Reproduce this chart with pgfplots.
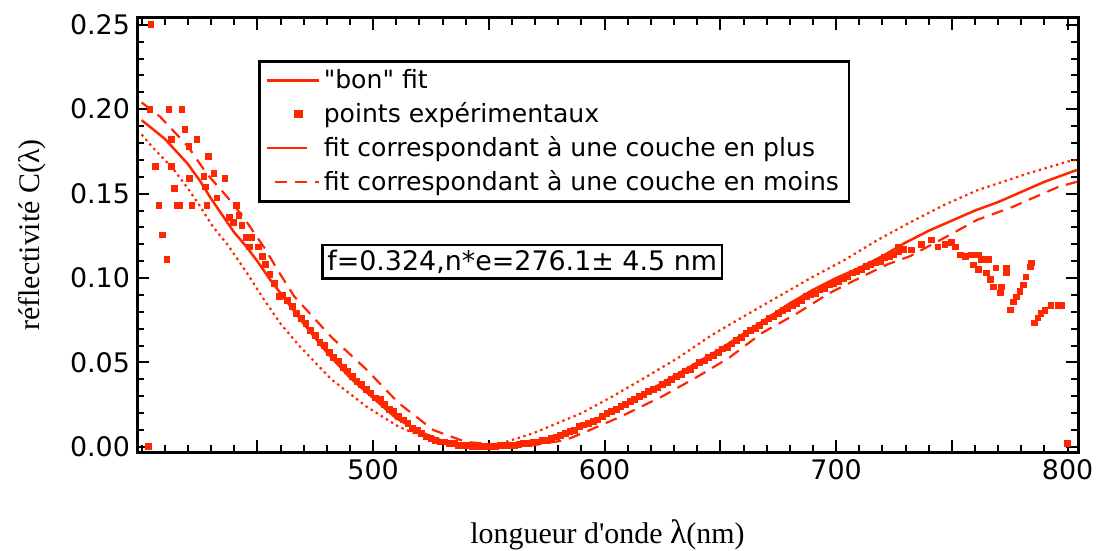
\documentclass[border=0pt]{standalone}
\usepackage{fontspec}
\setmainfont{Liberation Serif}
\newfontfamily\geneva[Ligatures=TeXOff]{DejaVu Sans}
\newfontfamily\labelfont[Ligatures=TeXOff]{Liberation Serif}
\usepackage{pgfplots}
\pgfplotsset{compat=1.18}
\usetikzlibrary{calc}
\definecolor{fitred}{RGB}{255,38,0}

\begin{document}
\begin{tikzpicture}
\begin{axis}[%
    ,name=ax
    ,scale only axis
    ,width=470.5bp,height=217bp
    ,xmin=398,xmax=804.5
    ,ymin=-0.003,ymax=0.254
    ,xtick={450,500,550,600,650,700,750,800}
    ,xticklabels={,500,,600,,700,,800}
    ,minor xtick={400,410,...,800}
    ,ytick={0,0.05,0.1,0.15,0.2,0.25}
    ,minor ytick={0.01,0.02,0.03,0.04,0.06,0.07,0.08,0.09,0.11,0.12,0.13,0.14,0.16,0.17,0.18,0.19,0.21,0.22,0.23,0.24}
    ,yticklabel style={/pgf/number format/.cd,fixed,fixed zerofill,precision=2}
    ,/pgf/number format/assume math mode=true
    ,ticklabel style={font=\geneva\fontsize{13.5}{16}\selectfont}
    ,major tick length=6bp,minor tick length=3.5bp
    ,every tick/.style={black,line width=1bp}
    ,axis line style={line width=1.5bp}
    ,xlabel={\labelfont longueur d'onde {\fontsize{17}{17}\selectfont λ}(nm)}
    ,ylabel={\labelfont réflectivité C(λ)}
    ,label style={font=\fontsize{15}{18}\selectfont}
    ,xlabel style={at={(axis description cs:0.5,-0.191)},anchor=center}
    ,ylabel style={at={(axis description cs:-0.1116,0.5)},anchor=center}
    ,legend cell align=left
    ,legend style={at={(0.1286,0.903)},anchor=north west,draw=black,line width=1.25bp,
        font=\geneva\fontsize{12.6}{15}\selectfont,row sep=1.5bp,inner xsep=3bp,inner ysep=2bp}
    ]
% "bon" fit
\addplot[fitred,line width=1.25bp,
    legend image code/.code={\draw (0bp,0bp) -- (26bp,0bp);}] coordinates {
 (400,0.1935) (405,0.188) (410,0.1825) (415,0.175) (420,0.1675) (425,0.158)
 (430,0.147) (435,0.137) (440,0.127) (445,0.119) (450,0.110) (455,0.100)
 (460,0.091) (465,0.082) (470,0.073) (480,0.056) (490,0.041) (500,0.029)
 (510,0.017) (520,0.009) (530,0.0035) (540,0.0010) (550,0.0) (560,0.0006)
 (570,0.0025) (580,0.0065) (590,0.012) (600,0.019) (610,0.026) (620,0.034)
 (630,0.042) (640,0.050) (650,0.058) (660,0.067) (670,0.076) (680,0.085)
 (690,0.093) (700,0.100) (710,0.106) (720,0.113) (730,0.121) (740,0.128)
 (750,0.134) (760,0.140) (770,0.145) (780,0.151) (790,0.157) (800,0.162) (804,0.164)
};
\addlegendentry{"bon" fit}
% points experimentaux
\addplot[only marks,mark=square*,mark size=1.45bp,color=fitred,mark options={draw=none,fill=fitred},
    legend image code/.code={\draw[mark repeat=2,mark phase=2] plot coordinates {(0bp,0bp) (16bp,0bp) (32bp,0bp)};}] coordinates {
 (404,0.250) (403,0.0005) (800,0.002)
 (403.6,0.200) (411.8,0.200) (417.4,0.200) (418.7,0.188) (413,0.182) (423.9,0.182)
 (420.4,0.178) (429,0.172) (405.8,0.166) (413,0.166) (420.8,0.159) (426.9,0.160)
 (431.2,0.162) (436,0.159) (414,0.153) (427.7,0.154) (432.5,0.1475) (407.5,0.1428)
 (415.2,0.1428) (416.5,0.1428) (421.7,0.1428) (428.2,0.1428) (441.1,0.1428)
 (438,0.136) (442,0.137) (439.8,0.133) (443.3,0.131) (408.8,0.1256) (445.4,0.124)
 (447.6,0.124) (410.9,0.111) (446.7,0.1185) (450.6,0.1185) (452,0.1126)
 (453.3,0.108) (455.4,0.102) (457.5,0.097) (459.6,0.089)
 (461,0.090) (463,0.087) (465,0.083) (467,0.079) (469,0.076) (471,0.073)
 (473,0.069) (475,0.066) (477,0.062) (479,0.060) (481,0.056) (483,0.053)
 (485,0.051) (487,0.047) (489,0.045) (491,0.042) (493,0.039) (495,0.037)
 (497,0.034) (499,0.032) (501,0.029) (503,0.028) (505,0.025) (507,0.022)
 (509,0.021) (511,0.018) (513,0.016) (515,0.014) (517,0.011) (519,0.010)
 (521,0.008) (523,0.006) (525,0.005) (527,0.004) (529,0.003) (531,0.003)
 (533,0.002) (535,0.002) (537,0.001) (539,0.001) (541,0.001) (543,0.0005)
 (545,0.0005) (547,0.0005) (549,0.0005) (551,0.0005) (553,0.0005) (555,0.001)
 (557,0.001) (559,0.001) (561,0.001) (563,0.0015) (565,0.002) (567,0.002)
 (569,0.003) (571,0.003) (573,0.004) (575,0.004) (577,0.005) (579,0.006)
 (581,0.007) (583,0.008) (585,0.009) (587,0.010) (589,0.012) (591,0.013)
 (593,0.014) (595,0.015) (597,0.016) (599,0.018) (601,0.020) (603,0.021)
 (605,0.022) (607,0.024) (609,0.025) (611,0.027) (613,0.028) (615,0.030)
 (617,0.031) (619,0.033) (621,0.034) (623,0.035) (625,0.037) (627,0.038)
 (629,0.040) (631,0.042) (633,0.043) (635,0.045) (637,0.046) (639,0.048)
 (641,0.050) (643,0.051) (645,0.053) (647,0.054) (649,0.056) (651,0.058)
 (653,0.059) (655,0.061) (657,0.063) (659,0.065) (661,0.067) (663,0.069)
 (665,0.070) (667,0.072) (669,0.074) (671,0.076) (673,0.077) (675,0.079)
 (677,0.081) (679,0.082) (681,0.084) (683,0.085) (685,0.087) (687,0.089)
 (689,0.090) (691,0.091) (693,0.093) (695,0.094) (697,0.096) (699,0.097)
 (701,0.098) (703,0.100) (705,0.101) (707,0.103) (709,0.104) (711,0.105)
 (713,0.107) (715,0.108) (717,0.109) (719,0.110) (721,0.112) (723,0.113)
 (725,0.114) (727,0.116) (729,0.117)
 (726.9,0.1185) (732.5,0.1167) (736.8,0.1197) (741,0.1226) (744,0.1185)
 (747,0.1197) (749.7,0.121) (751.4,0.1185) (753.6,0.1137) (755.8,0.1126)
 (758.4,0.1137) (761.4,0.1137) (759.2,0.1078) (762.7,0.111) (765.7,0.111)
 (761.4,0.105) (764.8,0.103) (769,0.106) (773.4,0.106) (766.5,0.099)
 (767.8,0.0948) (771.3,0.0948) (770.8,0.0912) (773.4,0.103) (775.2,0.0811)
 (776.5,0.0859) (777.8,0.0889) (779.4,0.092) (780.8,0.096) (782,0.1007)
 (783.8,0.1066) (784.2,0.109) (785.8,0.0735) (787.2,0.0764) (788.5,0.079)
 (790.2,0.081) (792.8,0.084) (795.8,0.084) (797.2,0.084)
};
\addlegendentry{ points expérimentaux}
% une couche en plus
\addplot[fitred,line width=1.1bp,dash pattern=on 1.2bp off 1.8bp,
    legend image code/.code={\draw[solid,line width=1.1bp] (0bp,0bp) -- (20bp,0bp);}] coordinates {
 (400,0.185) (405,0.177) (410,0.170) (414,0.164) (420,0.153) (425,0.143)
 (431,0.130) (437,0.120) (445,0.104) (453,0.087) (460,0.073) (468,0.060)
 (482,0.040) (497,0.024) (511,0.012) (525,0.004) (540,0.001) (548,0.0005)
 (555,0.002) (569,0.008) (583,0.016) (590,0.020) (603,0.0296) (618,0.0415)
 (632,0.053) (646,0.066) (661,0.078) (675,0.089) (689,0.100) (704,0.111)
 (718,0.1226) (732,0.133) (747,0.1435) (761,0.152) (783,0.162) (800,0.169) (804,0.170)
};
\addlegendentry{ fit correspondant à une couche en plus}
% une couche en moins
\addplot[fitred,line width=1.1bp,dash pattern=on 6bp off 4bp,
    legend image code/.code={\draw (4bp,0bp) -- (26bp,0bp);}] coordinates {
 (400,0.204) (408,0.1955) (420,0.178) (428,0.162) (437,0.148) (444,0.136)
 (453,0.118) (460,0.102) (466,0.089) (482,0.065) (497,0.046) (511,0.026)
 (526,0.010) (540,0.003) (555,0.001) (569,0.001) (583,0.004) (592,0.009)
 (607,0.018) (625,0.030) (640,0.0415) (654,0.053) (668,0.0675) (683,0.079)
 (697,0.091) (711,0.1007) (722,0.108) (732,0.113) (747,0.124) (761,0.1345)
 (776,0.142) (796,0.154) (804,0.157)
};
\addlegendentry{ fit correspondant à une couche en moins}
\node[draw=black,line width=1.25bp,fill=white,inner sep=2.5bp,
    font=\geneva\fontsize{13.5}{16}\selectfont] at (axis cs:564.4,0.1096)
    {f=0.324,n*e=276.1± 4.5 nm};
\end{axis}
\pgfresetboundingbox
\path[use as bounding box] ($(ax.south west)+(-68.5bp,-49.5bp)$) rectangle ($(ax.north east)+(9bp,9bp)$);
\end{tikzpicture}
\end{document}
